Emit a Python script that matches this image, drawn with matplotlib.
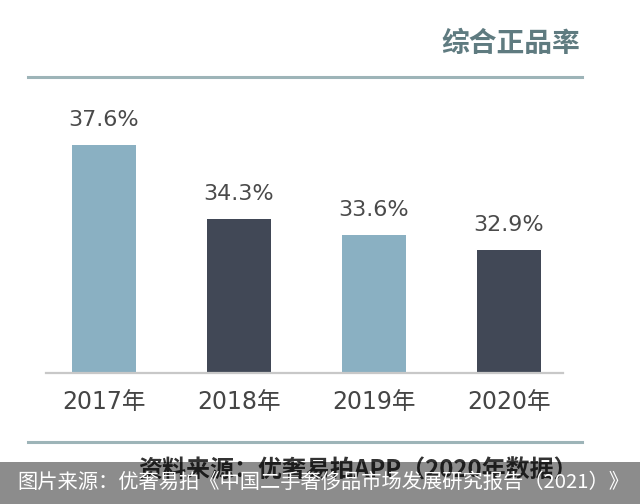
import matplotlib
matplotlib.use('Agg')
import matplotlib.pyplot as plt
from matplotlib.lines import Line2D
from matplotlib.patches import Rectangle

years = ['2017年', '2018年', '2019年', '2020年']
rates = [37.6, 34.3, 33.6, 32.9]
bar_colors = ['#8ab0c2', '#414856', '#8ab0c2', '#414856']
title = '综合正品率'
source = '资料来源：优奢易拍APP（2020年数据）'
caption = '图片来源：优奢易拍《中国二手奢侈品市场发展研究报告（2021）》'

plt.rcParams['font.family'] = ['DejaVu Sans', 'Noto Sans CJK SC']
cjk = ['Noto Sans CJK SC', 'DejaVu Sans']

fig = plt.figure(figsize=(6.4, 5.04), dpi=100)
fig.patch.set_facecolor('white')

ax = fig.add_axes([46 / 640, 1 - 373 / 504, 517 / 640, 273 / 504])
x = list(range(len(years)))
ax.bar(x, rates, width=0.474, color=bar_colors)
ax.set_xlim(-0.426, 3.40)
ax.set_ylim(27.43, 39.6)

for xi, v in zip(x, rates):
    ax.annotate(f'{v}%', (xi, v), xytext=(0, 18), textcoords='offset points',
                ha='center', va='center', fontsize=16, color='#4a4a4a')

ax.set_xticks(x)
ax.set_xticklabels(years, fontsize=17, color='#454545')
ax.tick_params(axis='x', length=0, pad=12)
ax.set_yticks([])
for s in ['left', 'right', 'top']:
    ax.spines[s].set_visible(False)
ax.spines['bottom'].set_color('#c8c8c8')
ax.spines['bottom'].set_linewidth(1.6)
ax.set_facecolor('none')

# title and rules
fig.text(580 / 640, 1 - 44 / 504, title, ha='right', va='center',
         fontsize=20, color='#5f7b80', family=cjk, weight='bold')
line_color = '#9db4b8'
fig.add_artist(Line2D([28 / 640, 582 / 640], [1 - 77 / 504] * 2,
                      transform=fig.transFigure, color=line_color, lw=2.2))
fig.add_artist(Line2D([28 / 640, 582 / 640], [1 - 442 / 504] * 2,
                      transform=fig.transFigure, color=line_color, lw=2.2))

# source line, partly hidden under the caption banner as in the original
fig.text(578 / 640, 1 - 471 / 504, source, ha='right', va='center',
         fontsize=17.3, color='#333333', family=cjk, weight='bold')

# caption banner
fig.add_artist(Rectangle((0, 0), 1, 42 / 504, transform=fig.transFigure,
                         facecolor='black', alpha=0.45, edgecolor='none', zorder=5))
fig.text(0.5 * (17 + 630) / 640, 1 - 482 / 504, caption, ha='center', va='center',
         fontsize=14.6, color='white', family=cjk, zorder=6)

fig.savefig('out.png', dpi=100)
